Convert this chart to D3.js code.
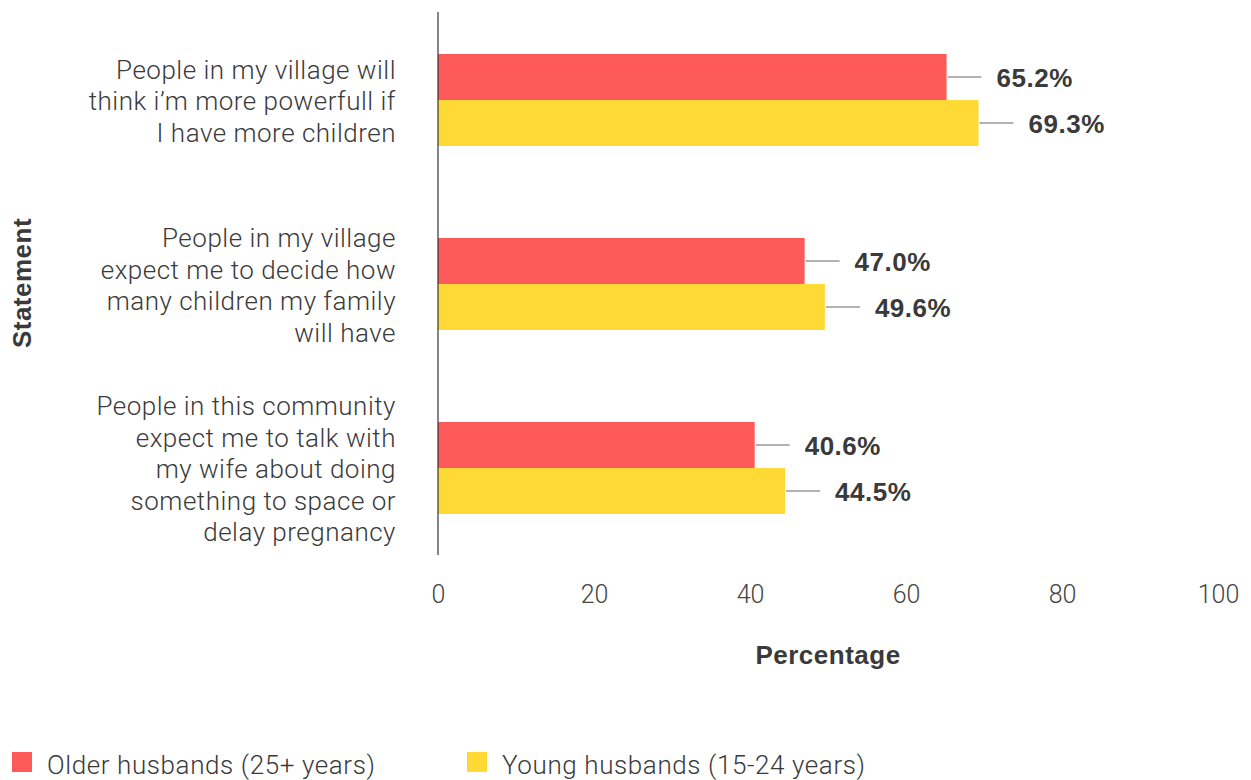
<!DOCTYPE html>
<html>
<head>
<meta charset="utf-8">
<script src="https://cdn.jsdelivr.net/npm/d3@7/dist/d3.min.js"></script>
<style>
  html, body { margin: 0; padding: 0; background: #fff; }
  svg { display: block; }
  .light { font-family: Roboto, "Liberation Sans", sans-serif; font-weight: 300; }
  .bold { font-family: "Liberation Sans", Arial, sans-serif; font-weight: 700; }
</style>
</head>
<body>
<svg id="chart" width="1251" height="780"></svg>
<script>
// Statements (y categories), each split into display lines
const statements = [
  "People in my village will think i’m more powerfull if I have more children",
  "People in my village expect me to decide how many children my family will have",
  "People in this community expect me to talk with my wife about doing something to space or delay pregnancy"
];
const statementLines = [
  ["People in my village will", "think i’m more powerfull if", "I have more children"],
  ["People in my village", "expect me to decide how", "many children my family", "will have"],
  ["People in this community", "expect me to talk with", "my wife about doing", "something to space or", "delay pregnancy"]
];
const seriesNames = ["Older husbands (25+ years)", "Young husbands (15-24 years)"];
const olderValues = [65.2, 47.0, 40.6];
const youngValues = [69.3, 49.6, 44.5];
const seriesColors = ["#FF5A5A", "#FFD935"];
const xTicks = [0, 20, 40, 60, 80, 100];

const svg = d3.select("#chart");

const x = d3.scaleLinear().domain([0, 100]).range([438, 1218]);
const y = d3.scaleBand().domain(statements).range([8, 560]).paddingInner(0.5).paddingOuter(0.25);
const ySub = d3.scaleBand().domain(seriesNames).range([0, y.bandwidth()]);

const rows = statements.map((s, i) => ({
  statement: s,
  values: [olderValues[i], youngValues[i]]
}));

// Bars and value labels
const groups = svg.append("g").selectAll("g")
  .data(rows).join("g")
  .attr("transform", d => `translate(0,${y(d.statement)})`);

const cells = groups.selectAll("g")
  .data(d => d.values.map((v, j) => ({ v, name: seriesNames[j], color: seriesColors[j] })))
  .join("g");

cells.append("rect")
  .attr("x", x(0))
  .attr("y", d => ySub(d.name))
  .attr("width", d => x(d.v) - x(0))
  .attr("height", ySub.bandwidth())
  .attr("fill", d => d.color);

cells.append("line")
  .attr("x1", d => x(d.v) + 1)
  .attr("x2", d => x(d.v) + 35)
  .attr("y1", d => ySub(d.name) + ySub.bandwidth() / 2)
  .attr("y2", d => ySub(d.name) + ySub.bandwidth() / 2)
  .attr("stroke", "#666")
  .attr("stroke-width", 1);

cells.append("text")
  .attr("class", "bold")
  .attr("x", d => x(d.v) + 50)
  .attr("y", d => ySub(d.name) + ySub.bandwidth() / 2 + 1)
  .attr("dy", "0.36em")
  .attr("font-size", 26)
  .attr("letter-spacing", 0.5)
  .attr("fill", "#3a3a3a")
  .text(d => d.v.toFixed(1) + "%");

// Vertical axis line
svg.append("line")
  .attr("x1", x(0)).attr("x2", x(0))
  .attr("y1", 12).attr("y2", 555)
  .attr("stroke", "#333").attr("stroke-width", 1.2);

// Category labels
const lineH = 31.5;
statements.forEach((s, i) => {
  const lines = statementLines[i];
  const cy = y(s) + y.bandwidth() / 2 + 1;
  const t = svg.append("text")
    .attr("class", "light")
    .attr("text-anchor", "end")
    .attr("font-size", 26)
    .attr("letter-spacing", 0.5)
    .attr("fill", "#3a3a3a");
  lines.forEach((ln, k) => {
    t.append("tspan")
      .attr("x", 396)
      .attr("y", cy + (k - (lines.length - 1) / 2) * lineH)
      .attr("dy", "0.36em")
      .text(ln);
  });
});

// X axis tick labels
const xAxis = d3.axisBottom(x).tickValues(xTicks).tickSize(0).tickPadding(0).tickFormat(d3.format("d"));
const gx = svg.append("g").attr("transform", "translate(0,585)").call(xAxis);
gx.select(".domain").remove();
gx.selectAll("text")
  .attr("class", "light")
  .attr("font-size", 25)
  .attr("fill", "#444");

// Axis titles
svg.append("text")
  .attr("class", "bold")
  .attr("x", 828).attr("y", 655)
  .attr("dy", "0.36em")
  .attr("text-anchor", "middle")
  .attr("font-size", 26)
  .attr("letter-spacing", 0.5)
  .attr("fill", "#3a3a3a")
  .text("Percentage");

svg.append("text")
  .attr("class", "bold")
  .attr("transform", "translate(22,283) rotate(-90)")
  .attr("dy", "0.36em")
  .attr("text-anchor", "middle")
  .attr("font-size", 26)
  .attr("letter-spacing", 0.5)
  .attr("fill", "#3a3a3a")
  .text("Statement");

// Legend
const legendX = [12, 467];
seriesNames.forEach((name, i) => {
  const g = svg.append("g").attr("transform", `translate(${legendX[i]},752)`);
  g.append("rect").attr("width", 20).attr("height", 20).attr("fill", seriesColors[i]);
  g.append("text")
    .attr("class", "light")
    .attr("x", 35).attr("y", 13)
    .attr("dy", "0.36em")
    .attr("font-size", 26)
    .attr("letter-spacing", 0.6)
    .attr("fill", "#3a3a3a")
    .text(name);
});
</script>
</body>
</html>
